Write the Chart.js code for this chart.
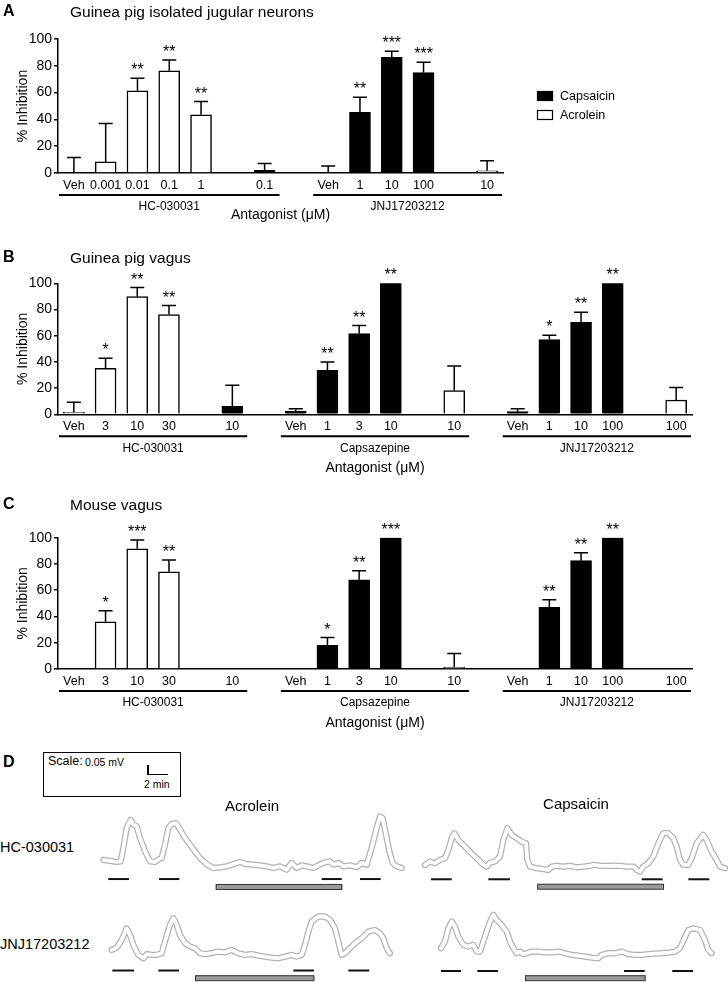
<!DOCTYPE html>
<html><head><meta charset="utf-8">
<script src="https://cdn.jsdelivr.net/npm/chart.js@4.4.1/dist/chart.umd.min.js"></script>
<style>
html,body{margin:0;padding:0;background:#fff;}
body{width:728px;height:982px;position:relative;overflow:hidden;font-family:'Liberation Sans',Arial,sans-serif;color:#000;}
canvas{position:absolute;}
.t{position:absolute;white-space:nowrap;line-height:1;}
.c{transform:translateX(-50%);}
</style></head><body>
<canvas id="cA" width="728" height="230" style="left:0;top:0"></canvas>
<canvas id="cB" width="728" height="250" style="left:0;top:240px"></canvas>
<canvas id="cC" width="728" height="245" style="left:0;top:495px"></canvas>
<canvas id="t1" width="305" height="85" style="left:100px;top:808px"></canvas>
<canvas id="t2" width="308" height="75" style="left:420px;top:820px"></canvas>
<canvas id="t3" width="295" height="77" style="left:105px;top:905px"></canvas>
<canvas id="t4" width="285" height="77" style="left:435px;top:905px"></canvas>

<div class="t" style="left:3px;top:3px;font-size:16px;font-weight:bold">A</div>
<div class="t" style="left:70px;top:3.5px;font-size:15.5px">Guinea pig isolated jugular neurons</div>
<div class="t" style="left:3px;top:249px;font-size:16px;font-weight:bold">B</div>
<div class="t" style="left:70px;top:250px;font-size:15.5px">Guinea pig vagus</div>
<div class="t" style="left:3px;top:496px;font-size:16px;font-weight:bold">C</div>
<div class="t" style="left:70px;top:497px;font-size:15.5px">Mouse vagus</div>
<div class="t" style="left:3px;top:754px;font-size:16px;font-weight:bold">D</div>
<div style="position:absolute;left:43px;top:752px;width:136px;height:43px;border:1px solid #000"></div>
<div class="t" style="left:48px;top:755px;font-size:12.5px">Scale:</div>
<div class="t" style="left:85px;top:757px;font-size:10.5px">0.05 mV</div>
<div style="position:absolute;left:147px;top:765px;width:1.5px;height:10px;background:#000"></div>
<div style="position:absolute;left:147px;top:773.5px;width:21px;height:1.5px;background:#000"></div>
<div class="t" style="left:144px;top:779px;font-size:10.5px">2 min</div>
<div class="t c" style="left:252px;top:797.5px;font-size:15px">Acrolein</div>
<div class="t c" style="left:576px;top:795.5px;font-size:15px">Capsaicin</div>
<div class="t" style="left:0;top:840px;font-size:14.5px">HC-030031</div>
<div class="t" style="left:0;top:937px;font-size:14.5px">JNJ17203212</div>

<script>
// ---------------- DATA ----------------
// Panel A: guinea pig isolated jugular neurons (% inhibition)
const catsA = ['Veh','0.001','0.01','0.1','1','','0.1','','Veh','1','10','100','','10'];
const capsA = [null,null,null,null,null,null,2,null,0,45.3,86.3,74.9,null,null];
const acroA = [0,8.3,61.3,76.3,43.5,null,null,null,null,null,null,null,null,1.7];
const semA  = [11.5,28.7,9.5,8,9.8,null,5,null,5.3,11.2,4.5,7.7,null,7.5];
const starsA= ['','','**','**','**','','','','','**','***','***','',''];
const groupsA = [['HC-030031',0,6],['JNJ17203212',8,13]];

// Panel B: guinea pig vagus
const catsB = ['Veh','3','10','30','','10','','Veh','1','3','10','','10','','Veh','1','10','100','','100'];
const acroB = [1.5,35.1,89.8,76.1,null,null,null,null,null,null,null,null,18.1,null,null,null,null,null,null,10.9];
const capsB = [null,null,null,null,null,6.1,null,2.5,33.6,61.6,100,null,null,null,2,57,70.2,100,null,null];
const semB  = [7.7,7.6,6.9,6.9,null,16,null,1.8,6.4,6.1,null,null,18.8,null,2.3,3.3,7.7,null,null,9.5];
const starsB= ['','*','**','**','','','','','**','**','**','','','','','*','**','**','',''];
const groupsB = [['HC-030031',0,5],['Capsazepine',7,12],['JNJ17203212',14,19]];

// Panel C: mouse vagus
const catsC = ['Veh','3','10','30','','10','','Veh','1','3','10','','10','','Veh','1','10','100','','100'];
const acroC = [null,36,91.6,74.1,null,null,null,null,null,null,null,null,1.3,null,null,null,null,null,null,null];
const capsC = [null,null,null,null,null,null,null,null,18,68,100,null,null,null,null,47,82.5,100,null,null];
const semC  = [null,8.4,6.6,8.9,null,null,null,null,5.9,6.9,null,null,10.6,null,null,5.8,6.1,null,null,null];
const starsC= ['','*','***','**','','','','','*','**','***','','','','','**','**','**','',''];
const groupsC = [['HC-030031',0,5],['Capsazepine',7,12],['JNJ17203212',14,19]];

// Panel D: nerve depolarisation traces (time in min, amplitude in µV)
const acrHC_t = [0.32,0.95,1.59,1.97,2.22,2.54,2.92,3.17,3.49,3.81,4.29,4.76,5.24,5.56,5.87,6.19,6.51,6.83,7.24,7.62,8.10,8.57,9.05,9.52,10.16,10.79,11.43,12.06,12.70,13.33,13.97,14.60,15.24,15.87,16.51,17.14,17.78,18.25,18.73,19.21,19.68,20.32,20.79,21.27,21.90,22.22,22.70,23.17,23.81,24.44,24.92,25.40,25.87,26.35,26.67,26.92,27.24,27.56,27.87,28.25,28.73];
const acrHC_v = [62,58,53,56,111,195,229,209,202,153,97,56,53,63,70,125,195,211,215,188,153,125,97,70,44,28,31,35,44,53,44,42,39,35,28,35,21,49,28,39,35,28,39,49,56,42,49,35,39,31,49,42,111,195,243,236,167,97,49,35,28];
const acrHC_agonist = [[0.79,2.76],[5.62,7.56],[21.11,23.02],[24.76,26.73]];
const acrHC_antagonist = [11.02,23.08];

const capHC_t = [0.48,0.95,1.43,1.90,2.38,2.70,3.02,3.27,3.65,4.13,4.60,5.08,5.56,6.03,6.35,6.67,7.14,7.62,7.94,8.32,8.73,9.21,9.68,10.10,10.22,10.48,11.11,11.75,12.22,12.54,13.02,13.65,14.29,14.92,15.56,16.19,16.51,17.14,17.78,18.41,19.05,19.68,20.32,20.63,20.95,21.27,21.75,22.22,22.70,23.17,23.65,24.13,24.44,24.76,25.08,25.56,25.87,26.35,26.98,27.30,27.78,28.25,28.57,29.05];
const capHC_v = [35,49,42,56,63,97,146,167,139,118,97,76,56,35,28,44,49,70,139,188,160,146,132,125,56,28,21,17,14,28,31,28,31,25,28,31,35,32,31,32,31,28,28,14,7,28,42,70,125,167,167,146,111,56,35,35,63,125,160,139,90,56,28,21];
const capHC_agonist = [[1.05,3.02],[6.51,8.57],[21.11,23.11],[25.56,27.56]];
const capHC_antagonist = [11.17,23.24];

const acrJNJ_t = [0.63,1.11,1.59,2.06,2.38,2.70,3.17,3.65,3.97,4.44,4.92,5.40,5.71,6.19,6.51,6.83,7.14,7.62,8.10,8.57,9.05,9.52,10.16,10.79,11.43,12.06,12.70,13.33,13.97,14.60,15.24,15.87,16.51,17.14,17.78,18.25,18.73,19.05,19.37,19.68,20.32,20.95,21.43,21.90,22.22,22.54,22.86,23.33,23.81,24.44,25.08,25.71,26.19,26.51,26.83,27.14];
const acrJNJ_v = [35,44,76,125,97,56,14,0,17,14,14,21,70,139,167,139,97,63,49,42,21,17,21,28,25,35,21,14,17,11,7,3,0,7,14,7,14,56,111,153,174,174,160,125,70,14,21,42,63,83,111,118,104,83,42,21];
const acrJNJ_agonist = [[0.70,2.76],[5.08,7.05],[17.94,19.90],[23.17,25.17]];
const acrJNJ_antagonist = [8.57,19.94];

const capJNJ_t = [0.57,0.95,1.27,1.59,1.90,2.22,2.70,3.17,3.65,3.97,4.29,4.60,4.92,5.24,5.56,5.87,6.35,6.83,7.14,7.46,7.78,8.10,8.41,8.73,9.21,9.84,10.48,11.11,11.75,12.38,13.02,13.65,14.29,14.92,15.56,15.87,16.51,17.14,17.78,18.41,19.05,19.68,20.32,20.95,21.59,22.22,22.86,23.33,23.75,24.13,24.60,25.24,25.71,26.03,26.35];
const capJNJ_v = [42,70,125,153,132,90,56,49,56,28,28,70,111,153,181,160,139,111,70,42,21,28,17,21,28,28,25,25,28,21,14,11,7,3,0,14,21,21,28,17,14,14,17,19,21,24,28,42,83,118,125,118,76,35,21];
const capJNJ_agonist = [[0.57,2.48],[4.03,6.00],[18.0,19.97],[22.60,24.57]];
const capJNJ_antagonist = [8.57,20.06];

// ---------------- CHARTS ----------------
Chart.defaults.font.family = "'Liberation Sans', Arial, sans-serif";
Chart.defaults.color = '#000';
const FONT = "'Liberation Sans', Arial, sans-serif";

const barExtras = {
  id: 'barExtras',
  afterDatasetsDraw(chart) {
    const cfg = chart.options.plugins.barExtras;
    const {ctx, chartArea, scales: {x, y}} = chart;
    ctx.save();
    ctx.strokeStyle = '#000'; ctx.fillStyle = '#000'; ctx.lineWidth = 1.5;
    const n = chart.data.labels.length;
    for (let i = 0; i < n; i++) {
      let top = null;
      chart.data.datasets.forEach(ds => { if (ds.data[i] != null) top = ds.data[i]; });
      if (top == null) continue;
      const cx = x.getPixelForValue(i);
      let yTop = y.getPixelForValue(top);
      const s = cfg.sem[i];
      if (s != null && s > 0) {
        const ye = y.getPixelForValue(top + s);
        ctx.beginPath();
        ctx.moveTo(cx, yTop); ctx.lineTo(cx, ye);
        ctx.moveTo(cx - 7, ye); ctx.lineTo(cx + 7, ye);
        ctx.stroke();
        yTop = ye;
      }
      if (cfg.stars[i]) {
        ctx.font = '16px ' + FONT;
        ctx.textAlign = 'center'; ctx.textBaseline = 'alphabetic';
        ctx.fillText(cfg.stars[i], cx, yTop - 3);
      }
    }
    const slot = x.getPixelForValue(1) - x.getPixelForValue(0);
    ctx.lineWidth = 2;
    ctx.font = '12px ' + FONT;
    ctx.textAlign = 'center'; ctx.textBaseline = 'middle';
    cfg.groups.forEach(([name, a, b]) => {
      const x1 = x.getPixelForValue(a) - 0.47 * slot;
      const x2 = x.getPixelForValue(b) + 0.47 * slot;
      const gy = chartArea.bottom + 22;
      ctx.beginPath(); ctx.moveTo(x1, gy); ctx.lineTo(x2, gy); ctx.stroke();
      ctx.fillText(name, (x1 + x2) / 2, chartArea.bottom + 34);
    });
    ctx.font = '14px ' + FONT;
    ctx.fillText('Antagonist (\u03bcM)', (chartArea.left + chartArea.right) / 2, chartArea.bottom + cfg.titleOffset);
    if (cfg.legend) {
      const lx = 537, ly = 91;
      ctx.font = '12.5px ' + FONT; ctx.textAlign = 'left';
      chart.data.datasets.forEach((ds, k) => {
        const yy = ly + k * 19;
        ctx.fillStyle = ds.backgroundColor;
        ctx.fillRect(lx, yy, 16, 10);
        ctx.lineWidth = 1.2; ctx.strokeStyle = '#000';
        ctx.strokeRect(lx + 0.5, yy + 0.5, 15, 9);
        ctx.fillStyle = '#000';
        ctx.fillText(ds.label, lx + 23, yy + 5.5);
      });
    }
    ctx.restore();
  }
};

function barChart(id, cats, caps, acro, sem, stars, groups, L) {
  new Chart(document.getElementById(id), {
    type: 'bar',
    data: {
      labels: cats,
      datasets: [
        {label: 'Capsaicin', data: caps, backgroundColor: '#000', borderColor: '#000'},
        {label: 'Acrolein', data: acro, backgroundColor: '#fff', borderColor: '#000'}
      ]
    },
    options: {
      responsive: false, animation: false, devicePixelRatio: 1,
      layout: {padding: {top: L.top, right: L.right, left: 0, bottom: 0}},
      datasets: {bar: {grouped: false, barThickness: 21, borderWidth: 1.5, borderSkipped: 'start'}},
      plugins: {
        legend: {display: false}, tooltip: {enabled: false},
        barExtras: {sem, stars, groups, titleOffset: L.titleOffset, legend: L.legend}
      },
      scales: {
        x: {
          type: 'category', offset: true,
          grid: {display: false, drawTicks: false},
          border: {display: true, color: '#000', width: 1.5},
          ticks: {autoSkip: false, maxRotation: 0, minRotation: 0, font: {size: 12.5}, padding: 5, color: '#000'},
          afterFit: s => { s.height = L.xh; }
        },
        y: {
          min: 0, max: 100,
          ticks: {stepSize: 20, font: {size: 14}, padding: 2, color: '#000'},
          grid: {drawOnChartArea: false, drawTicks: true, tickLength: 4, color: '#000', lineWidth: 1.5},
          border: {display: true, color: '#000', width: 1.5},
          title: {display: true, text: '% Inhibition', font: {size: 14}, padding: {top: 15, bottom: 0}, color: '#000'},
          afterFit: s => { s.width = 58; }
        }
      }
    },
    plugins: [barExtras]
  });
}

barChart('cA', catsA, capsA, acroA, semA, starsA, groupsA, {top: 39, right: 225, xh: 57, titleOffset: 42, legend: true});
barChart('cB', catsB, capsB, acroB, semB, starsB, groupsB, {top: 43.3, right: 36, xh: 75.7, titleOffset: 54, legend: false});
barChart('cC', catsC, capsC, acroC, semC, starsC, groupsC, {top: 42.7, right: 36, xh: 71, titleOffset: 54, legend: false});

// Trace charts
const PX_PER_MIN = 10.5, PX_PER_UV = 0.24;
const markerPlugin = {
  id: 'markers',
  afterDatasetsDraw(chart) {
    const m = chart.options.plugins.markers;
    const {ctx, scales: {x, y}} = chart;
    ctx.save();
    ctx.strokeStyle = '#111'; ctx.lineWidth = 2;
    const yb = y.getPixelForValue(m.agonistLevel);
    m.agonist.forEach(([a, b]) => {
      ctx.beginPath(); ctx.moveTo(x.getPixelForValue(a), yb); ctx.lineTo(x.getPixelForValue(b), yb); ctx.stroke();
    });
    const yg = y.getPixelForValue(m.antagonistLevel);
    const xa = x.getPixelForValue(m.antagonist[0]), xb = x.getPixelForValue(m.antagonist[1]);
    ctx.fillStyle = '#9a9a9a';
    ctx.fillRect(xa, yg - 2.5, xb - xa, 5);
    ctx.lineWidth = 1; ctx.strokeStyle = '#333';
    ctx.strokeRect(xa + 0.5, yg - 2.5, xb - xa - 1, 5);
    ctx.restore();
  }
};
function traceChart(id, ts, vs, agonist, antagonist, vTop, agLevel, antLevel) {
  const cv = document.getElementById(id);
  const pts = ts.map((t, i) => ({x: t, y: vs[i]}));
  new Chart(cv, {
    type: 'line',
    data: {datasets: [
      {data: pts, borderColor: '#fff', borderWidth: 3.8, pointRadius: 0, borderJoinStyle: 'round', borderCapStyle: 'round'},
      {data: pts, borderColor: '#b2b2b2', borderWidth: 6.3, pointRadius: 0, borderJoinStyle: 'round', borderCapStyle: 'round'}
    ]},
    options: {
      responsive: false, animation: false, devicePixelRatio: 1,
      layout: {padding: 0},
      plugins: {legend: {display: false}, tooltip: {enabled: false},
        markers: {agonist, antagonist, agonistLevel: agLevel, antagonistLevel: antLevel}},
      scales: {
        x: {type: 'linear', display: false, min: 0, max: cv.width / PX_PER_MIN},
        y: {type: 'linear', display: false, max: vTop, min: vTop - cv.height / PX_PER_UV}
      }
    },
    plugins: [markerPlugin]
  });
}
traceChart('t1', acrHC_t, acrHC_v, acrHC_agonist, acrHC_antagonist, 278, -18, -51);
traceChart('t2', capHC_t, capHC_v, capHC_agonist, capHC_antagonist, 222, -25, -56);
traceChart('t3', acrJNJ_t, acrJNJ_v, acrJNJ_agonist, acrJNJ_antagonist, 222, -51, -83);
traceChart('t4', capJNJ_t, capJNJ_v, capJNJ_agonist, capJNJ_antagonist, 222, -53, -83);
</script>
</body></html>
